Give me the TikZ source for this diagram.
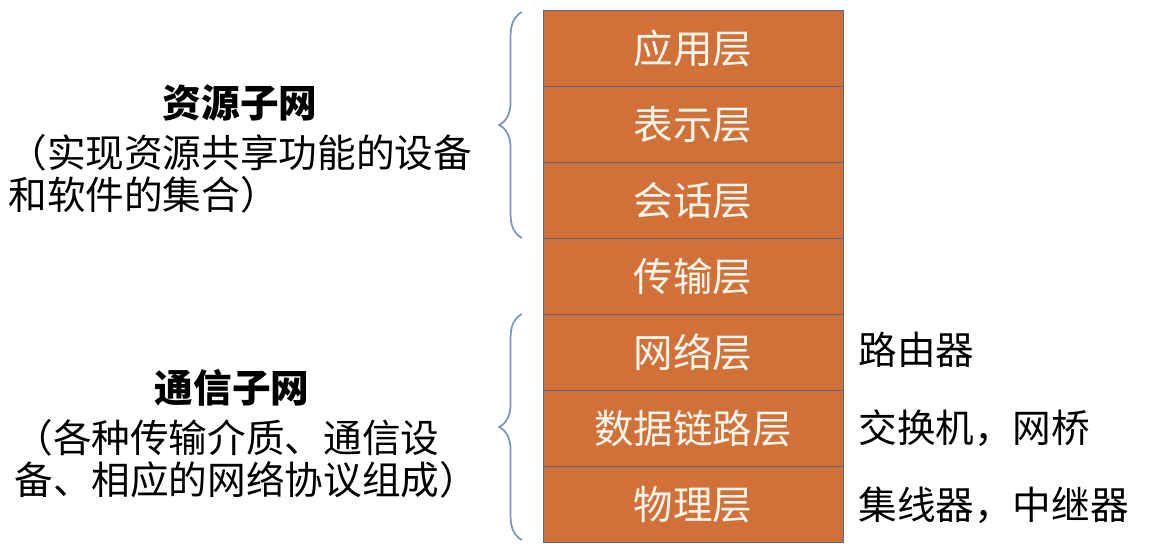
\documentclass[tikz,border=0pt]{standalone}
\usepackage{fontspec}
\setmainfont{Noto Sans CJK SC}
\usetikzlibrary{positioning,decorations.pathreplacing}
\definecolor{layerfill}{HTML}{CF7138}
\definecolor{layerline}{HTML}{4F6A8C}
\definecolor{bracecol}{HTML}{7C98BA}

\begin{document}
\begin{tikzpicture}[x=0.02cm, y=-0.02cm]
  \tikzset{
    layer/.style={draw=layerline, fill=layerfill, minimum width=6cm, minimum height=1.52cm,
      inner sep=0pt, outer sep=0pt, text=white!92!orange, font=\fontsize{22.5}{24}\selectfont},
    desc/.style={font=\fontsize{22}{24}\selectfont, inner sep=0pt},
    subnet/.style={draw=bracecol, line width=1pt,
      decorate, decoration={brace, amplitude=13pt, mirror}}
  }
  \useasboundingbox (0,0) rectangle (1150,552);
  %
  \node [layer] (app) at (693,48.5) {应用层};
  \node [layer, below=0 of app]   (pres) {表示层};
  \node [layer, below=0 of pres]  (sess) {会话层};
  \node [layer, below=0 of sess]  (trans) {传输层};
  \node [layer, below=0 of trans] (net) {网络层};
  \node [layer, below=0 of net]   (link) {数据链路层};
  \node [layer, below=0 of link]  (phys) {物理层};
  %
  \node [desc, anchor=west] (router) at (858,350) {路由器};
  \node [desc, anchor=west] (switch) at (858,428) {交换机，网桥};
  \node [desc, anchor=west] (hub)    at (858,505) {集线器，中继器};
  %
  \coordinate (restop) at (522,12);
  \coordinate (resbot) at (522,238);
  \coordinate (comtop) at (522,314);
  \coordinate (combot) at (522,540);
  \draw [subnet] (restop) -- (resbot);
  \draw [subnet] (comtop) -- (combot);
  %
  \node [desc, font=\fontsize{22}{24}\selectfont\bfseries] (res) at (240,103) {资源子网};
  \node [desc, anchor=north west, align=left] (resnote) at (8,134)
    {（实现资源共享功能的设备\\和软件的集合）};
  \node [desc, font=\fontsize{22}{24}\selectfont\bfseries] (com) at (232,388) {通信子网};
  \node [desc, anchor=north west, align=left] (comnote) at (14,419)
    {（各种传输介质、通信设\\备、相应的网络协议组成）};
\end{tikzpicture}
\end{document}
